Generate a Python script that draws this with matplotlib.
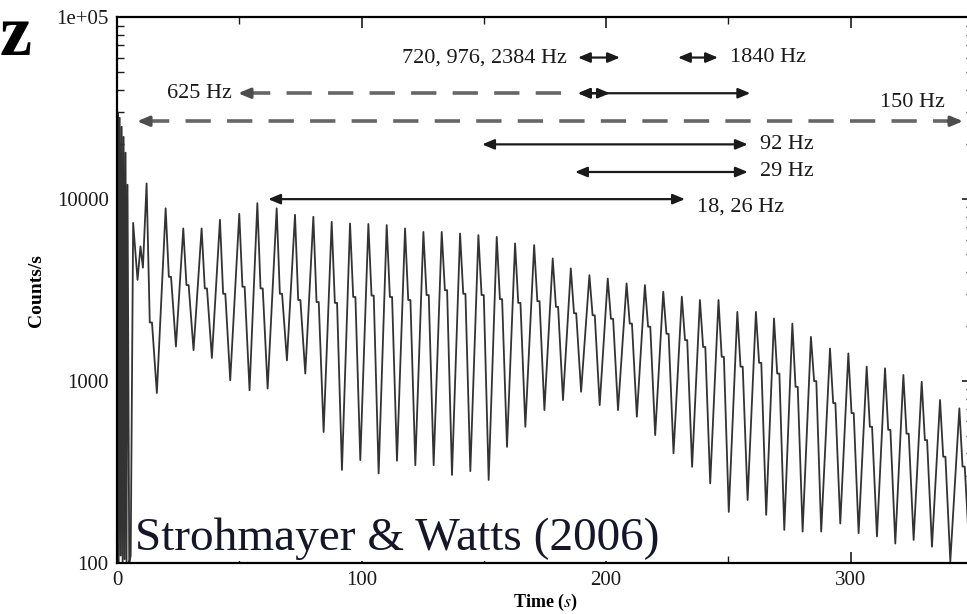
import numpy as np
import matplotlib
matplotlib.use("Agg")
import matplotlib.pyplot as plt

plt.rcParams['font.family'] = ['Liberation Serif', 'DejaVu Serif']
plt.rcParams['mathtext.fontset'] = 'stix'

# initial flare (saturated spike, first seconds)
flare_t = [0.0, 0.3, 0.7, 1.1, 1.5, 1.9, 2.3, 2.7, 3.1, 3.5, 3.9, 4.3, 5.0, 5.6, 6.6, 8.4, 9.6, 10.6]
flare_counts = [100, 30000, 100, 28000, 110, 25000, 100, 22000, 105, 18000, 100, 12000, 100, 110, 7400, 3600, 5500, 4200]

# pulse maxima (s) and counts, shoulder and minimum after each pulse
peak_t = [12.1, 19.9, 27.1, 34.6, 42.1, 50.0, 57.4, 65.3, 72.8, 80.3,
          87.8, 95.3, 102.8, 110.3, 117.8, 125.3, 132.8, 140.3, 147.8, 155.3,
          162.8, 170.6, 178.2, 185.6, 193.2, 200.7, 208.4, 215.9, 223.4, 231.0,
          238.4, 246.0, 253.7, 261.3, 268.7, 276.2, 283.8, 291.6, 299.1, 306.6,
          314.1, 321.6, 329.1, 336.6, 344.5]
peak_counts = [12200, 8900, 6900, 6900, 7700, 8300, 9500, 8900, 8200, 8000,
               7500, 7350, 7300, 7200, 6900, 6600, 6600, 6470, 6340, 6200,
               5710, 5590, 4720, 4160, 3820, 3660, 3440, 3370, 3100, 2910,
               2790, 2790, 2400, 2400, 2210, 2070, 1750, 1510, 1420, 1200,
               1175, 1080, 990, 787, 708]
shoulder_counts = [2100, 3740, 3370, 3230, 3020, 3300, 3230, 3020, 2790, 2720,
                   2690, 2900, 2950, 2900, 2790, 2970, 3160, 3020, 2970, 2820,
                   2690, 2750, 2560, 2360, 2300, 2200, 2070, 1990, 1820, 1680,
                   1540, 1360, 1200, 1260, 1100, 930, 1000, 757, 667, 561,
                   540, 514, 474, 384, 339]
trough_counts = [860, 1550, 1480, 1340, 1010, 890, 910, 1300, 1100, 525,
                 325, 368, 311, 365, 345, 345, 305, 320, 286, 435,
                 561, 693, 787, 874, 738, 693, 637, 505, 401, 338,
                 274, 191, 222, 184, 152, 149, 149, 165, 146, 140,
                 128, 134, 123, 102, 110]
shoulder_lag = [1.3, 2.2]
trough_lag = 4.2

# QPO detection intervals: (label, start, end, level)
qpo_solid = [("720, 976, 2384 Hz", 188.5, 205.7, 60000),
             ("1840 Hz", 229.4, 245.8, 60000),
             ("", 188.5, 201.6, 38200),
             ("", 188.5, 259.0, 38200),
             ("92 Hz", 149.3, 258.0, 20000),
             ("29 Hz", 187.3, 258.0, 14100),
             ("18, 26 Hz", 61.8, 232.3, 10000)]
qpo_dashed = [("625 Hz", 49.5, 188.0, 38200),
              ("150 Hz", 8.2, 346.0, 26800)]

t_pts = list(flare_t)
c_pts = list(flare_counts)
for tp, pk, sh, tr in zip(peak_t, peak_counts, shoulder_counts, trough_counts):
    t_pts += [tp, tp + shoulder_lag[0], tp + shoulder_lag[1], tp + trough_lag]
    c_pts += [pk, sh, sh, tr]

fig = plt.figure(figsize=(9.67, 6.14), dpi=100)
ax = fig.add_axes([0.121, 0.083, 0.885, 0.889])
ax.plot(t_pts, c_pts, color='0.2', lw=1.3)
ax.set_yscale('log')
ax.set_xlim(0, 350)
ax.set_ylim(100, 1e5)

ax.set_yticks([100, 1000, 10000, 100000])
ax.set_yticklabels(['100', '1000', '10000', '1e+05'])
ax.set_xticks([0, 100, 200, 300])
ax.set_xticks([50, 150, 250], minor=True)
ax.tick_params(which='both', direction='in', top=True, right=True, labelsize=15, colors='0.1')
ax.tick_params(which='major', length=8, width=1.2, pad=6)
ax.tick_params(which='minor', length=5, width=1.0)
for s in ax.spines.values():
    s.set_linewidth(1.6)

ax.set_xlabel('Time ($s$)', fontsize=13, fontweight='bold', labelpad=1)
ax.set_ylabel('Counts/s', fontsize=14, fontweight='bold', labelpad=8)

head = dict(arrowstyle='<|-|>,head_length=0.6,head_width=0.25', color='0.1', lw=1.6,
            shrinkA=0, shrinkB=0, mutation_scale=12)
for label, t0, t1, lev in qpo_solid:
    ax.annotate('', xy=(t0, lev), xytext=(t1, lev), arrowprops=head)

ax.text(184, 60000, qpo_solid[0][0], ha='right', va='center', fontsize=16, color='0.1')
ax.text(250.7, 60000, qpo_solid[1][0], ha='left', va='center', fontsize=16, color='0.1')
ax.text(263, 20000, qpo_solid[4][0], ha='left', va='center', fontsize=16, color='0.1')
ax.text(263, 14100, qpo_solid[5][0], ha='left', va='center', fontsize=16, color='0.1')
ax.text(237.2, 9000, qpo_solid[6][0], ha='left', va='center', fontsize=16, color='0.1')

one = dict(arrowstyle='-|>,head_length=0.6,head_width=0.25', color='0.3', lw=2.2,
           shrinkA=0, shrinkB=0, mutation_scale=12)
for label, t0, t1, lev in qpo_dashed:
    ax.plot([t0 + 3, t1], [lev, lev], color='0.4', lw=2.6, ls=(0, (7, 4.5)))
    ax.annotate('', xy=(t0, lev), xytext=(t0 + 5, lev), arrowprops=one)
ax.annotate('', xy=(346.0, 26800), xytext=(340.0, 26800), arrowprops=one, annotation_clip=False)
ax.text(47, 38200, qpo_dashed[0][0], ha='right', va='center', fontsize=16, color='0.1')
ax.text(338.6, 34100, qpo_dashed[1][0], ha='right', va='center', fontsize=16, color='0.1')

ax.text(7.5, 118, 'Strohmayer & Watts (2006)', fontsize=34, color='#16162a',
        ha='left', va='baseline', bbox=dict(facecolor='white', edgecolor='none', pad=1))

fig.text(0.0, 0.910, 'z', fontsize=52, fontweight='bold', ha='left', va='baseline')

fig.savefig('out.png', dpi=100)
